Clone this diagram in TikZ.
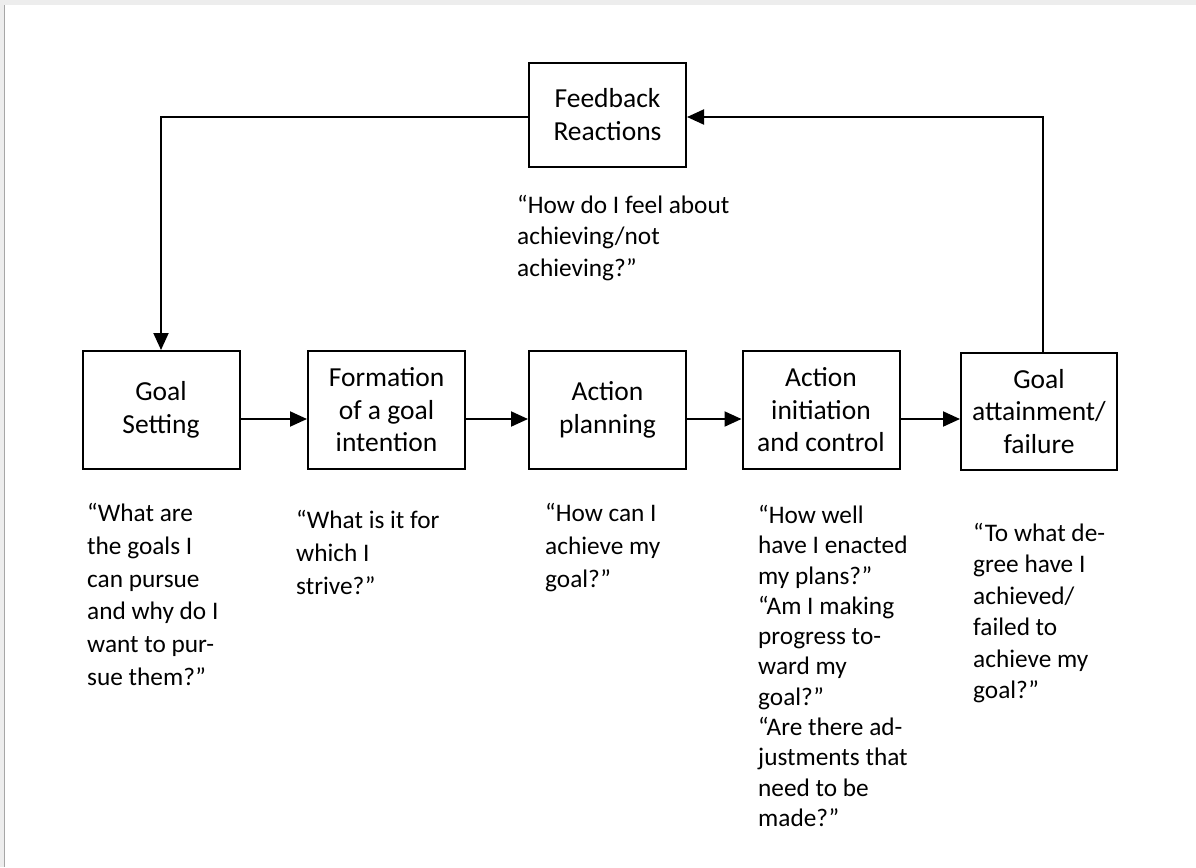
\documentclass[tikz,border=0pt]{standalone}
\usepackage{fontspec}
\setmainfont{Carlito}
\usetikzlibrary{arrows.meta,calc}

\tikzset{
  stage/.style={draw=black, line width=2pt, minimum width=157pt, minimum height=118pt,
    inner sep=0pt, align=center, font=\fontsize{27.5}{32.5}\selectfont},
  question/.style={anchor=north west, inner sep=0pt, align=left,
    font=\fontsize{25.3}{32.8}\selectfont},
  tightq/.style={question, font=\fontsize{25.3}{30.3}\selectfont},
  link/.style={line width=2pt, -{Triangle[length=17pt,width=15pt]}}
}

\begin{document}
\begin{tikzpicture}[x=1pt,y=-1pt]
  % page frame
  \fill[white] (0,0) rectangle (1196,867);
  \fill[black!7] (0,0) rectangle (1196,5);
  \fill[black!7] (0,0) rectangle (4,867);
  \draw[black!35, line width=1pt] (4.5,5) -- (4.5,867);
  \useasboundingbox (0,0) rectangle (1196,867);

  % stages
  \node[stage, minimum height=104pt] (fb)  at (607.5,114.5) {Feedback\\Reactions};
  \node[stage] (gs)  at (161,410)   {Goal\\Setting};
  \node[stage] (fgi) at (386.5,410) {Formation\\of a goal\\intention};
  \node[stage] (ap)  at (607.5,410) {Action\\planning};
  \node[stage] (aic) at (821,410)   {Action\\initiation\\and control};
  \node[stage, minimum width=156pt, minimum height=117pt] (gat) at (1039,411.5) {Goal\\attainment/\\failure};

  % forward chain, drawn a little below the box centres
  \draw[link] ($(gs.east)+(0,9)$)  -- ($(fgi.west)+(0,9)$);
  \draw[link] ($(fgi.east)+(0,9)$) -- ($(ap.west)+(0,9)$);
  \draw[link] ($(ap.east)+(0,9)$)  -- ($(aic.west)+(0,9)$);
  \draw[link] ($(aic.east)+(0,9)$) -- ($(aic.east -| gat.west)+(0,9)$);

  % feedback loop
  \coordinate (rc) at (1043,117);
  \coordinate (lc) at (161,117);
  \draw[link] (gat.north -| rc) -- (rc) -- (fb.east |- rc);
  \draw[link] (fb.west |- lc) -- (lc) -- (gs.north);

  % guiding questions
  \node[tightq, font=\fontsize{25.3}{31.5}\selectfont] (qfb) at (517,195) {“How do I feel about\\achieving/not\\achieving?”};
  \node[question] (qgs) at (87,503) {“What are\\the goals I\\can pursue\\and why do I\\want to pur-\\sue them?”};
  \node[question] (qfgi) at (296,510) {“What is it for\\which I\\strive?”};
  \node[question] (qap) at (545,503) {“How can I\\achieve my\\goal?”};
  \node[tightq] (qaic) at (758,505) {“How well\\have I enacted\\my plans?”\\“Am I making\\progress to-\\ward my\\goal?”\\“Are there ad-\\justments that\\need to be\\made?”};
  \node[tightq, font=\fontsize{25.3}{31.4}\selectfont] (qgat) at (973,523) {“To what de-\\gree have I\\achieved/\\failed to\\achieve my\\goal?”};
\end{tikzpicture}
\end{document}
